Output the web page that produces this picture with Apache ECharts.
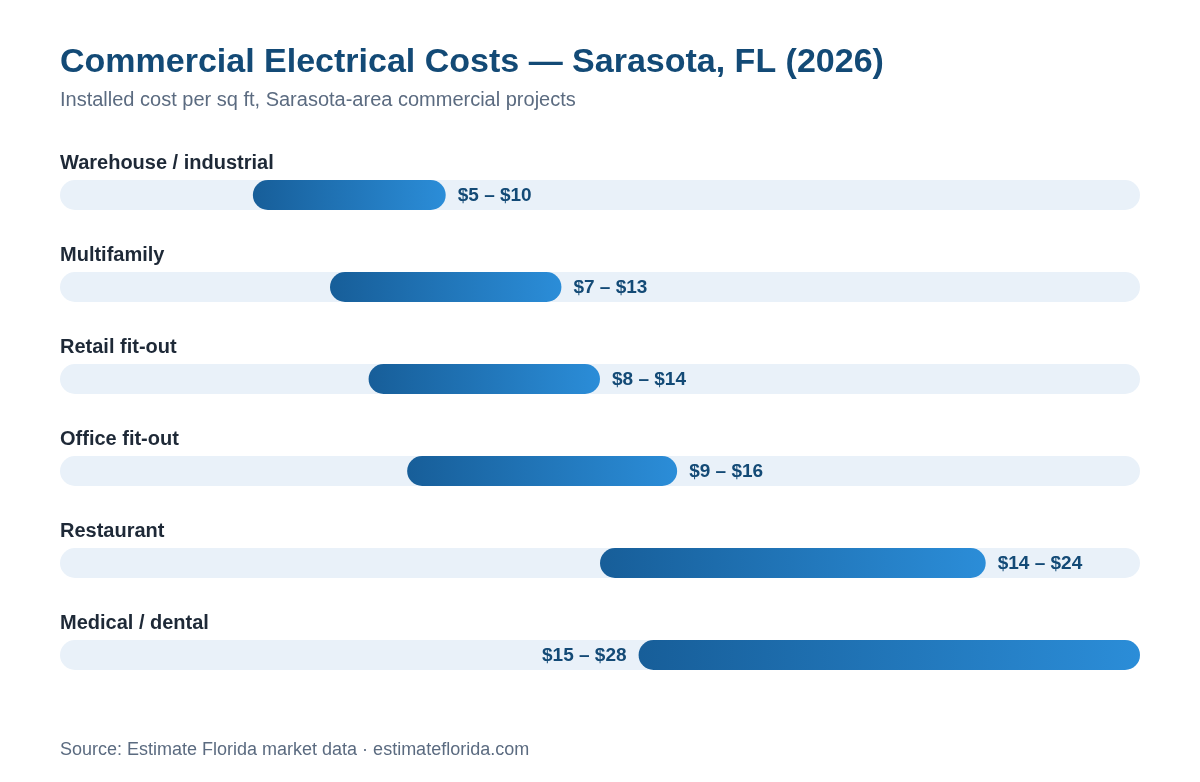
<!DOCTYPE html>
<html>
<head>
    <meta charset="utf-8"/>
    <title>Commercial Electrical Costs</title>
    <script src="https://cdn.jsdelivr.net/npm/echarts@6/dist/echarts.min.js"></script>
    <style>
        html, body { margin: 0; padding: 0; background: #fff; }
        #chart { width: 1200px; height: 782px; }
    </style>
</head>
<body>
<div id="chart"></div>
<script type="text/javascript">
    // project types, top to bottom
    let categories = ['Warehouse / industrial', 'Multifamily', 'Retail fit-out', 'Office fit-out', 'Restaurant', 'Medical / dental'];
    // installed cost per sq ft, low and high
    let lowCost = [5, 7, 8, 9, 14, 15];
    let highCost = [10, 13, 14, 16, 24, 28];
    let scaleMax = 28;

    let font = 'Liberation Sans';
    let chart = echarts.init(document.getElementById('chart'));

    chart.setOption({
        animation: false,
        textStyle: {fontFamily: font},
        title: [
            {
                text: 'Commercial Electrical Costs — Sarasota, FL (2026)',
                left: 60, top: 46, padding: 0,
                textStyle: {fontSize: 34, fontWeight: 'bold', color: '#134a76', fontFamily: font}
            },
            {
                text: 'Installed cost per sq ft, Sarasota-area commercial projects',
                left: 60, top: 90, padding: 0,
                textStyle: {fontSize: 20, fontWeight: 'normal', color: '#5b6b80', fontFamily: font}
            },
            {
                text: 'Source: Estimate Florida market data · estimateflorida.com',
                left: 60, top: 741, padding: 0,
                textStyle: {fontSize: 18, fontWeight: 'normal', color: '#5b6b80', fontFamily: font}
            }
        ],
        grid: {left: 60, right: 60, top: 149, bottom: 81},
        xAxis: {type: 'value', min: 0, max: scaleMax, show: false},
        yAxis: {type: 'category', data: categories, inverse: true, show: false},
        series: [
            {
                name: 'track',
                type: 'bar',
                barWidth: 30,
                barGap: '-100%',
                silent: true,
                itemStyle: {color: '#e9f1f9', borderRadius: 15},
                label: {
                    show: true,
                    position: [0, -17],
                    verticalAlign: 'middle',
                    align: 'left',
                    formatter: function (p) { return p.name; },
                    fontSize: 20, fontWeight: 'bold', color: '#1e2937', fontFamily: font
                },
                data: categories.map(function () { return scaleMax; })
            },
            {
                name: 'base',
                type: 'bar',
                stack: 'range',
                barWidth: 30,
                silent: true,
                itemStyle: {color: 'transparent'},
                data: lowCost
            },
            {
                name: 'range',
                type: 'bar',
                stack: 'range',
                barWidth: 30,
                itemStyle: {
                    borderRadius: 15,
                    color: new echarts.graphic.LinearGradient(0, 0, 1, 0, [
                        {offset: 0, color: '#175e99'},
                        {offset: 1, color: '#2b8dd8'}
                    ])
                },
                label: {
                    show: true,
                    position: 'right',
                    distance: 12,
                    offset: [0, 1],
                    formatter: function (p) {
                        return '$' + lowCost[p.dataIndex] + ' – $' + highCost[p.dataIndex];
                    },
                    fontSize: 19, fontWeight: 'bold', color: '#134a76', fontFamily: font
                },
                data: highCost.map(function (h, i) {
                    let item = {value: h - lowCost[i]};
                    if (h >= scaleMax) {
                        item.label = {position: 'left', distance: 12};
                    }
                    return item;
                })
            }
        ]
    });
</script>
</body>
</html>
